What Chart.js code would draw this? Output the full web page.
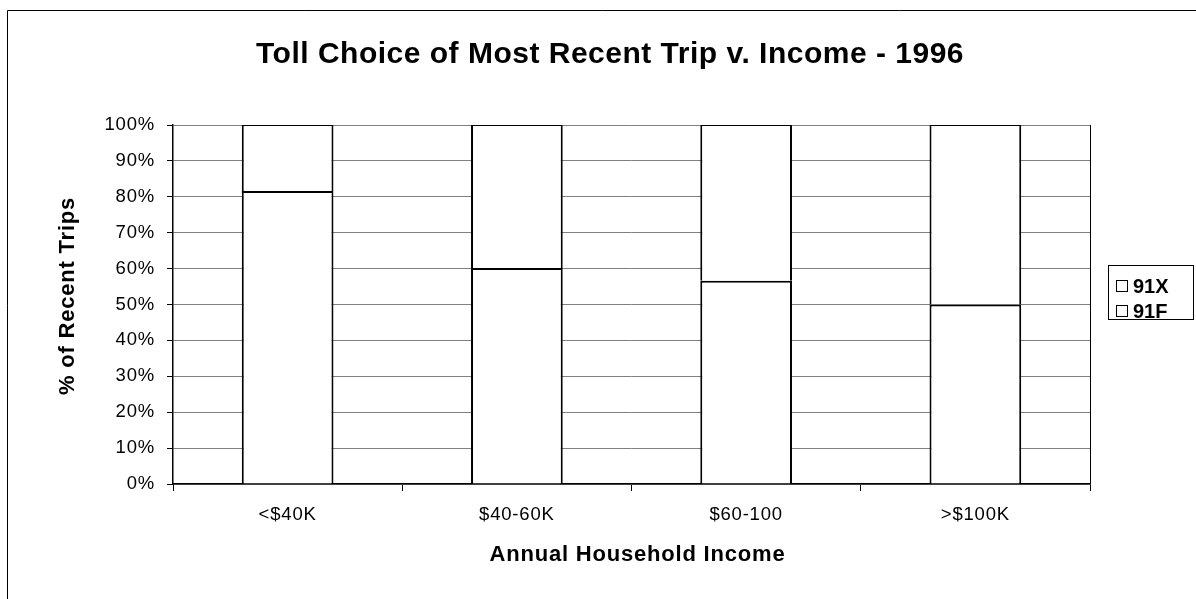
<!DOCTYPE html>
<html>
<head>
<meta charset="utf-8">
<script src="https://cdn.jsdelivr.net/npm/chart.js@4/dist/chart.umd.min.js"></script>
<style>
  html, body { margin: 0; padding: 0; background: #fff; }
  #wrap { width: 1196px; height: 599px; position: relative; }
</style>
</head>
<body>
<div id="wrap"><canvas id="c" width="1196" height="599"></canvas></div>
<script>
// Income brackets and share of most recent trips by facility (percent)
const categories = ['<$40K', '$40-60K', '$60-100', '>$100K'];
const share91F = [81.6, 60.2, 56.6, 50.0];
const share91X = [18.4, 39.8, 43.4, 50.0];
const seriesNames = ['91F', '91X'];
const yTicks = [0, 10, 20, 30, 40, 50, 60, 70, 80, 90, 100];

const chartTitle = 'Toll Choice of Most Recent Trip v. Income - 1996';
const yTitle = '% of Recent Trips';
const xTitle = 'Annual Household Income';

const FONT = "'Liberation Sans', Arial, sans-serif";

// Slightly wide lettering for the axis tick labels
const wideText = {
  id: 'wideText',
  beforeDraw(chart) { chart.ctx.letterSpacing = '0.8px'; },
  afterDraw(chart) { chart.ctx.letterSpacing = '0px'; }
};

// Frame, titles, plot border and boxed legend drawn on the canvas
const decorations = {
  id: 'decorations',
  afterDraw(chart) {
    const { ctx, chartArea } = chart;
    ctx.save();
    // outer frame
    ctx.strokeStyle = '#000';
    ctx.lineWidth = 1;
    ctx.beginPath();
    ctx.moveTo(7.5, 620);
    ctx.lineTo(7.5, 10.5);
    ctx.lineTo(1220, 10.5);
    ctx.stroke();

    // right edge of the plot area
    ctx.beginPath();
    ctx.moveTo(Math.round(chartArea.right) + 0.5, chartArea.top);
    ctx.lineTo(Math.round(chartArea.right) + 0.5, chartArea.bottom);
    ctx.stroke();

    // chart title
    ctx.fillStyle = '#000';
    ctx.textAlign = 'center';
    ctx.textBaseline = 'middle';
    ctx.letterSpacing = '0.5px';
    ctx.font = 'bold 30px ' + FONT;
    ctx.fillText(chartTitle, 610, 55);

    // axis titles
    ctx.letterSpacing = '0.8px';
    ctx.font = 'bold 22px ' + FONT;
    ctx.fillText(xTitle, (chartArea.left + chartArea.right) / 2 + 6, 555);
    ctx.save();
    ctx.translate(68, 296);
    ctx.rotate(-Math.PI / 2);
    ctx.fillText(yTitle, 0, 0);
    ctx.restore();

    // legend box (top series listed first)
    ctx.strokeRect(1108.5, 265.5, 85, 54);
    ctx.font = 'bold 20px ' + FONT;
    ctx.letterSpacing = '0px';
    ctx.textAlign = 'left';
    const items = chart.data.datasets.map(d => d.label).reverse();
    items.forEach((name, i) => {
      const cy = 286 + i * 25;
      ctx.fillStyle = '#fff';
      ctx.fillRect(1116.5, cy - 5.5, 11, 11);
      ctx.strokeRect(1116.5, cy - 5.5, 11, 11);
      ctx.fillStyle = '#000';
      ctx.fillText(name, 1133, cy + 1);
    });
    ctx.restore();
  }
};

new Chart(document.getElementById('c'), {
  type: 'bar',
  data: {
    labels: categories,
    datasets: [
      {
        label: seriesNames[0],
        data: share91F,
        backgroundColor: '#ffffff',
        borderColor: '#000000',
        borderWidth: { top: 2, left: 2, right: 2, bottom: 0 },
        borderSkipped: false
      },
      {
        label: seriesNames[1],
        data: share91X,
        backgroundColor: '#ffffff',
        borderColor: '#000000',
        borderWidth: { top: 1, left: 2, right: 2, bottom: 0 },
        borderSkipped: false
      }
    ]
  },
  options: {
    responsive: false,
    animation: false,
    devicePixelRatio: 1,
    layout: { padding: { top: 125, right: 106, left: 0, bottom: 0 } },
    plugins: {
      legend: { display: false },
      title: { display: false },
      tooltip: { enabled: false }
    },
    datasets: { bar: { categoryPercentage: 1.0, barPercentage: 0.4 } },
    scales: {
      x: {
        stacked: true,
        grid: {
          offset: true,
          drawOnChartArea: false,
          drawTicks: true,
          tickLength: 7,
          tickColor: '#000',
          lineWidth: 1
        },
        border: { display: true, color: '#000', width: 1.5 },
        ticks: {
          color: '#000',
          font: { family: FONT, size: 18.5 },
          padding: 13
        },
        afterFit(s) { s.height = 115; }
      },
      y: {
        stacked: true,
        min: 0,
        max: 100,
        afterBuildTicks(s) { s.ticks = yTicks.map(v => ({ value: v })); },
        grid: {
          color: '#808080',
          lineWidth: 1,
          drawTicks: true,
          tickLength: 6,
          tickColor: '#000'
        },
        border: { display: true, color: '#000', width: 1.5 },
        ticks: {
          color: '#000',
          font: { family: FONT, size: 18.5 },
          padding: 12,
          callback: v => v + '%'
        },
        afterFit(s) { s.width = 173; }
      }
    }
  },
  plugins: [wideText, decorations]
});
</script>
</body>
</html>
